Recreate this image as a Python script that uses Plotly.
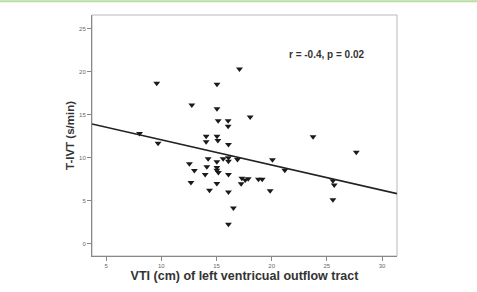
import plotly.graph_objects as go

# Data (VTI in cm, T-IVT in s/min)
vti = [8.02, 9.70, 9.58, 12.76, 15.04, 17.08, 15.04, 18.05, 15.15, 16.05,
       16.05, 14.06, 14.06, 15.04, 15.12, 16.08, 23.75, 27.67, 20.07, 21.19,
       14.24, 15.60, 16.08, 16.08, 16.90, 15.03, 12.54, 14.12, 15.03, 15.03,
       15.17, 12.99, 13.97, 16.08, 17.30, 17.60, 17.87, 17.23, 18.80, 19.14,
       12.68, 15.03, 14.36, 16.08, 19.86, 25.55, 25.67, 25.55, 16.53, 16.08]
tivt = [12.82, 11.67, 18.66, 16.13, 18.53, 20.32, 15.70, 14.73, 14.30, 14.30,
        13.66, 12.50, 11.84, 12.50, 11.99, 11.53, 12.44, 10.62, 9.76, 8.53,
        9.87, 9.87, 9.99, 9.59, 9.78, 9.53, 9.28, 8.94, 8.85, 8.53,
        8.28, 8.50, 8.05, 8.03, 7.59, 7.39, 7.53, 6.96, 7.48, 7.48,
        7.10, 7.00, 6.20, 5.99, 6.14, 7.31, 6.82, 5.10, 4.14, 2.25]

fit_intercept = 15.0
fit_slope = -0.293

x_range = [3.71, 31.36]
y_range = [-1.45, 26.6]
x_ticks = [5, 10, 15, 20, 25, 30]
y_ticks = [0, 5, 10, 15, 20, 25]

fig = go.Figure()
fig.add_trace(go.Scatter(
    x=vti, y=tivt, mode="markers",
    marker=dict(symbol="triangle-down", size=6, color="#1a1a1a",
                line=dict(width=0)),
    showlegend=False, cliponaxis=False))

line_x = x_range
line_y = [fit_intercept + fit_slope * v for v in line_x]
fig.add_trace(go.Scatter(
    x=line_x, y=line_y, mode="lines",
    line=dict(color="#222222", width=1.6), showlegend=False))

fig.add_annotation(x=(287 - 92) / 305, y=(261 - 55) / 246, xref="paper", yref="paper",
                   text="<b>r = -0.4, p = 0.02</b>", showarrow=False,
                   xanchor="left", yanchor="middle",
                   font=dict(family="Liberation Sans", size=10, color="#333333"))

# plot frame (light gray) and top green rule
fig.add_shape(type="rect", xref="paper", yref="paper", x0=0, y0=0, x1=1, y1=1,
              line=dict(color="#b8b8b8", width=1), layer="below")
fig.add_shape(type="line", xref="paper", yref="paper",
              x0=-92 / 305, x1=1 + 80 / 305, y0=1 + 14 / 246, y1=1 + 14 / 246,
              line=dict(color="#b9dca0", width=2))

fig.update_layout(
    width=477, height=292,
    margin=dict(l=92, r=80, t=15, b=31),
    paper_bgcolor="white", plot_bgcolor="white",
    font=dict(family="Liberation Sans", color="#555555"),
    xaxis=dict(range=x_range, tickvals=x_ticks, showgrid=False, zeroline=False,
               showline=True, linecolor="#888888", linewidth=1,
               ticks="outside", ticklen=4, tickcolor="#888888",
               tickfont=dict(size=6, color="#666666"),
               title=dict(text="<b>VTI (cm) of left ventricual outflow tract</b>",
                          font=dict(size=12.5, color="#333333"), standoff=2)),
    yaxis=dict(range=y_range, tickvals=y_ticks, showgrid=False, zeroline=False,
               showline=True, linecolor="#888888", linewidth=1,
               ticks="outside", ticklen=4, tickcolor="#888888",
               tickfont=dict(size=6, color="#666666"),
               title=dict(text="<b>T-IVT (s/min)</b>",
                          font=dict(size=11.5, color="#333333"), standoff=2)),
)

fig.write_html("out.html")
